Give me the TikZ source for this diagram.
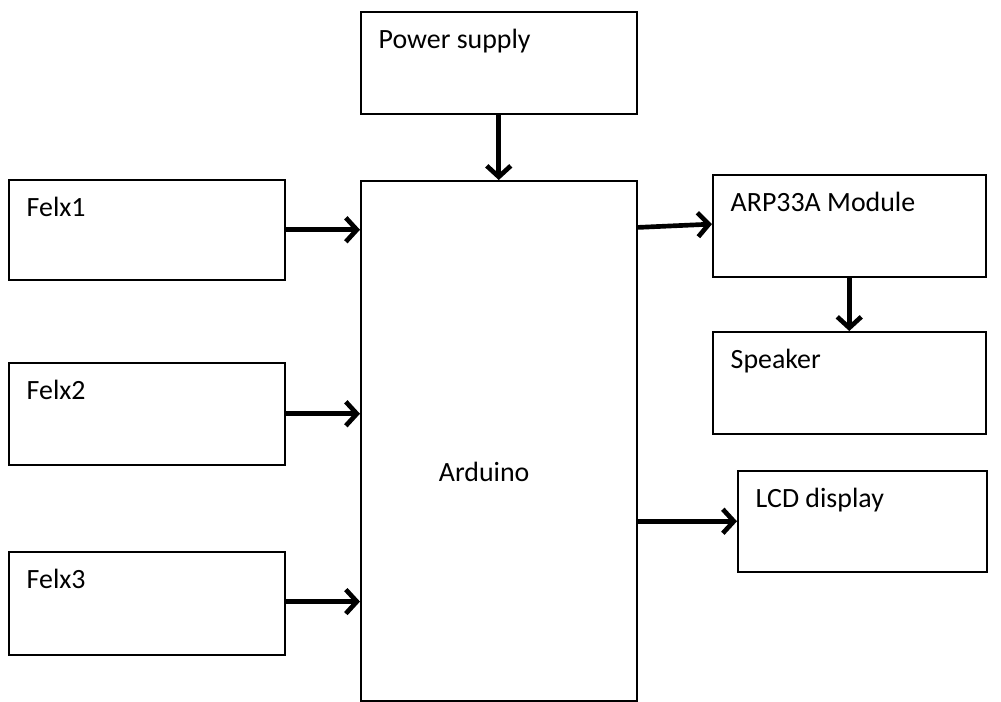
\documentclass[tikz,border=0pt]{standalone}
\usepackage{fontspec}
\setmainfont{Carlito}
\usepackage{tikz}
\usetikzlibrary{arrows.meta, positioning, calc}

\begin{document}
\begin{tikzpicture}[
    x=0.03cm, y=-0.03cm,
    label distance=0pt,
    blk/.style={draw, line width=1.3pt, anchor=north west, inner sep=0pt,
                minimum width=8.28cm, minimum height=3.06cm},
    txt/.style={anchor=base west, inner sep=0pt, xshift=0.555cm, yshift=-1.11cm,
                font=\fontsize{23.8}{28}\selectfont},
    mid/.style={anchor=base west, inner sep=0pt, xshift=2.36cm, yshift=-9.03cm,
                font=\fontsize{23.8}{28}\selectfont},
    arr/.style={-{Straight Barb[length=0.33cm, width=0.72cm]}, line width=0.14cm},
]
\useasboundingbox (0,0) rectangle (1001,702);

% blocks
\node[blk, label={[txt]north west:Power supply}] (power) at (360,11) {};
\node[blk, minimum height=15.6cm, label={[mid]north west:Arduino}] (ardu) at (360,180) {};
\node[blk, minimum height=3cm, label={[txt]north west:Felx1}] (felx1) at (8,179) {};
\node[blk, label={[txt]north west:Felx2}] (felx2) at (8,362) {};
\node[blk, minimum height=3.09cm, label={[txt]north west:Felx3}] (felx3) at (8,551) {};
\node[blk, minimum width=8.19cm, label={[txt]north west:ARP33A Module}] (arp) at (712,174) {};
\node[blk, minimum width=8.19cm, label={[txt]north west:Speaker}] (spk) at (712,331) {};
\node[blk, minimum width=7.47cm, minimum height=3.03cm, label={[txt]north west:LCD display}] (lcd) at (737,470) {};

% connections
\draw[arr] (power) -- (ardu);
\draw[arr] (felx1) -- (felx1 -| ardu.west);
\draw[arr] (felx2) -- (felx2 -| ardu.west);
\draw[arr] ([yshift=0.05cm]felx3.east) -- ([yshift=0.05cm]felx3 -| ardu.west);
\draw[arr] ([yshift=-0.05cm]arp -| ardu.east) -- ([yshift=0.05cm]arp.west);
\draw[arr] (arp) -- (spk);
\draw[arr] (lcd -| ardu.east) -- (lcd);
\end{tikzpicture}
\end{document}
